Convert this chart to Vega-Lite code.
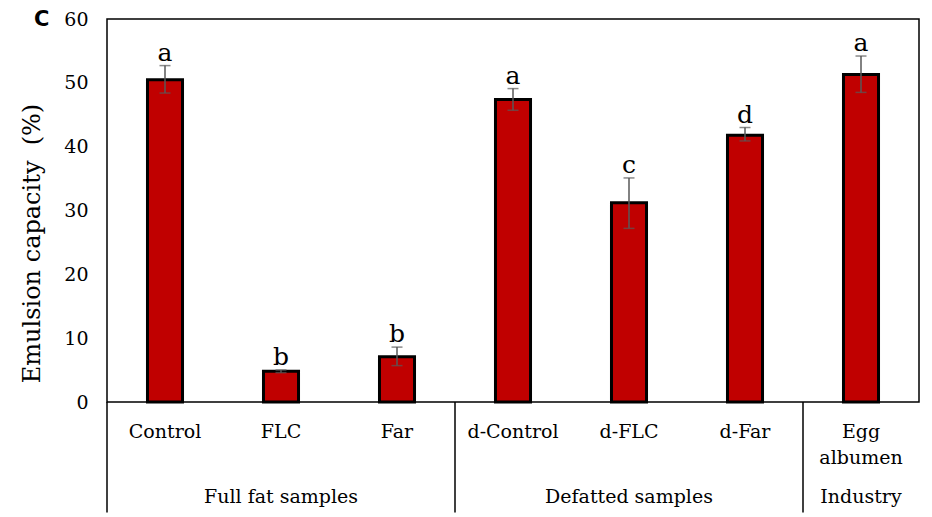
{
  "$schema": "https://vega.github.io/schema/vega-lite/v6.json",
  "width": 812,
  "height": 383,
  "autosize": {"type": "none"},
  "padding": {"left": 107, "top": 19, "right": 13, "bottom": 115},
  "background": "white",
  "config": {"view": {"stroke": "black", "strokeWidth": 1.5}, "font": "DejaVu Serif"},
  "title": {"text": "C", "anchor": "start", "frame": "group", "font": "DejaVu Sans", "fontWeight": "bold", "fontSize": 21, "color": "black", "baseline": "alphabetic", "offset": -37, "dx": -73},
  "datasets": {
    "bars": [
      {"sample": "Control", "mean": 50.5, "lo": 48.4, "hi": 52.7, "letter": "a"},
      {"sample": "FLC", "mean": 4.8, "lo": 4.6, "hi": 5.0, "letter": "b"},
      {"sample": "Far", "mean": 7.1, "lo": 5.7, "hi": 8.6, "letter": "b"},
      {"sample": "d-Control", "mean": 47.4, "lo": 45.7, "hi": 49.1, "letter": "a"},
      {"sample": "d-FLC", "mean": 31.2, "lo": 27.2, "hi": 35.1, "letter": "c"},
      {"sample": "d-Far", "mean": 41.8, "lo": 40.9, "hi": 43.0, "letter": "d"},
      {"sample": "Egg albumen", "mean": 51.3, "lo": 48.5, "hi": 54.2, "letter": "a"}
    ],
    "groups": [
      {"first": "Control", "mid": "FLC", "label": "Full fat samples"},
      {"first": "d-Control", "mid": "d-FLC", "label": "Defatted samples"},
      {"first": "Egg albumen", "mid": "Egg albumen", "label": "Industry"}
    ]
  },
  "layer": [
    {
      "data": {"name": "bars"},
      "mark": {"type": "bar", "fill": "#C00000", "stroke": "black", "strokeWidth": 3, "width": {"band": 0.302}},
      "encoding": {
        "x": {"field": "sample", "type": "nominal", "title": null,
          "scale": {"domain": ["Control", "FLC", "Far", "d-Control", "d-FLC", "d-Far", "Egg albumen"], "paddingInner": 0, "paddingOuter": 0},
          "axis": {"orient": "bottom", "domain": false, "ticks": false, "labelAngle": 0, "labelFont": "DejaVu Serif", "labelFontSize": 19, "labelColor": "black", "labelPadding": 20, "labelLineHeight": 26, "labelBaseline": "top",
            "labelExpr": "datum.label == 'Egg albumen' ? ['Egg', 'albumen'] : datum.label"}},
        "y": {"field": "mean", "type": "quantitative", "scale": {"domain": [0, 60]},
          "axis": {"title": "Emulsion capacity\u00a0 (%)", "values": [0, 10, 20, 30, 40, 50, 60], "grid": false, "ticks": false, "domain": false,
            "labelFont": "DejaVu Serif", "labelFontSize": 19, "labelColor": "black", "labelPadding": 19,
            "titleFont": "DejaVu Serif", "titleFontSize": 24, "titleFontWeight": "normal", "titleColor": "black", "titleX": -63, "titleY": 224}}
      }
    },
    {
      "data": {"name": "bars"},
      "mark": {"type": "rule", "color": "#595959", "strokeWidth": 1.5},
      "encoding": {
        "x": {"field": "sample", "type": "nominal"},
        "y": {"field": "lo", "type": "quantitative"},
        "y2": {"field": "hi"}
      }
    },
    {
      "data": {"name": "bars"},
      "mark": {"type": "tick", "orient": "horizontal", "size": 11, "thickness": 1.5, "color": "#595959"},
      "encoding": {
        "x": {"field": "sample", "type": "nominal"},
        "y": {"field": "lo", "type": "quantitative"}
      }
    },
    {
      "data": {"name": "bars"},
      "mark": {"type": "tick", "orient": "horizontal", "size": 11, "thickness": 1.5, "color": "#595959"},
      "encoding": {
        "x": {"field": "sample", "type": "nominal"},
        "y": {"field": "hi", "type": "quantitative"}
      }
    },
    {
      "data": {"name": "bars"},
      "mark": {"type": "text", "font": "DejaVu Serif", "fontSize": 25, "baseline": "alphabetic", "dy": -5, "color": "black"},
      "encoding": {
        "x": {"field": "sample", "type": "nominal"},
        "y": {"field": "hi", "type": "quantitative"},
        "text": {"field": "letter"}
      }
    },
    {
      "data": {"name": "groups"},
      "mark": {"type": "text", "font": "DejaVu Serif", "fontSize": 19, "baseline": "alphabetic", "color": "black"},
      "encoding": {
        "x": {"field": "mid", "type": "nominal"},
        "y": {"datum": -15.8, "type": "quantitative"},
        "text": {"field": "label"}
      }
    },
    {
      "data": {"name": "groups"},
      "mark": {"type": "rule", "color": "black", "strokeWidth": 1.5},
      "encoding": {
        "x": {"field": "first", "type": "nominal", "bandPosition": 0},
        "y": {"datum": 0, "type": "quantitative"},
        "y2": {"datum": -17.3}
      }
    }
  ]
}
